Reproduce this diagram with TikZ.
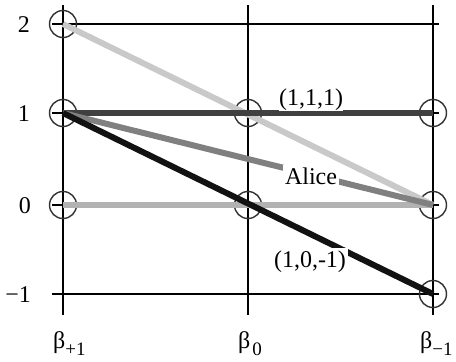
\documentclass[tikz,border=0pt]{standalone}
\usepackage{fontspec}
\setmainfont{Liberation Serif}
\begin{document}
\begin{tikzpicture}[x=1pt,y=-1pt,
  grid/.style={line width=1.4pt,black},
  ring/.style={line width=1.4pt,draw=black!80,fill=none},
  thick line/.style={line width=6pt,line cap=butt},
  lbl/.style={font=\fontsize{24}{28}\selectfont,inner sep=0pt},
  tag/.style={font=\fontsize{24}{28}\selectfont,fill=white,inner sep=2.5pt},
  sub/.style={}]
\useasboundingbox (0,0) rectangle (456,362);
% grid coordinates
\coordinate (a2) at (63,24);  \coordinate (b2) at (248,24);  \coordinate (c2) at (433,24);
\coordinate (a1) at (63,113); \coordinate (b1) at (248,113); \coordinate (c1) at (433,113);
\coordinate (a0) at (63,205); \coordinate (b0) at (248,205); \coordinate (c0) at (433,205);
\coordinate (am) at (63,294); \coordinate (bm) at (248,294); \coordinate (cm) at (433,294);
% grid lines
\coordinate (atop) at (63,5);   \coordinate (abot) at (63,315);
\coordinate (btop) at (248,5);  \coordinate (bbot) at (248,315);
\coordinate (ctop) at (433,5);  \coordinate (cbot) at (433,315);
\coordinate (l2) at (52,24);  \coordinate (r2) at (439,24);
\coordinate (l1) at (52,113); \coordinate (r1) at (439,113);
\coordinate (l0) at (52,205); \coordinate (r0) at (439,205);
\coordinate (lm) at (52,294); \coordinate (rm) at (439,294);
\draw[grid] (atop) -- (abot) (btop) -- (bbot) (ctop) -- (cbot);
\draw[grid] (l2) -- (r2) (l1) -- (r1) (l0) -- (r0) (lm) -- (rm);
% rings
\foreach \p in {a2,a1,b1,c1,a0,b0,c0,cm}
  \draw[ring] (\p) circle[radius=13.5];
% thick lines
\draw[thick line,color=black!21] (a2) -- (c0);
\draw[thick line,color=black!30] (a0) -- (c0);
\draw[thick line,color=black!75] (a1) -- (c1);
\draw[thick line,color=black!50] (a1) -- (c0);
\draw[thick line,color=black!93] (a1) -- (cm);
% line labels
\node[tag,inner sep=0.5pt,anchor=base] (t111) at (311,105) {(1,1,1)};
\node[tag,anchor=base] (alice) at (311,184) {Alice};
\node[tag,anchor=base] (t10m) at (310,267) {(1,0,-1)};
% axis labels
\node[lbl,anchor=base east] (y2) at (30,32) {2};
\node[lbl,anchor=base east] (y1) at (30,121) {1};
\node[lbl,anchor=base east] (y0) at (31,213) {0};
\node[lbl,anchor=base east] (ym) at (31,302) {−1};
\node[lbl,anchor=base west] (xa) at (53,348) {β\raisebox{-7pt}{\fontsize{19}{20}\selectfont +1}};
\node[lbl,anchor=base west] (xb) at (238,348) {β\hspace{2pt}\raisebox{-7pt}{\fontsize{19}{20}\selectfont 0}};
\node[lbl,anchor=base west] (xc) at (420,348) {β\raisebox{-7pt}{\fontsize{19}{20}\selectfont −1}};
\end{tikzpicture}
\end{document}
